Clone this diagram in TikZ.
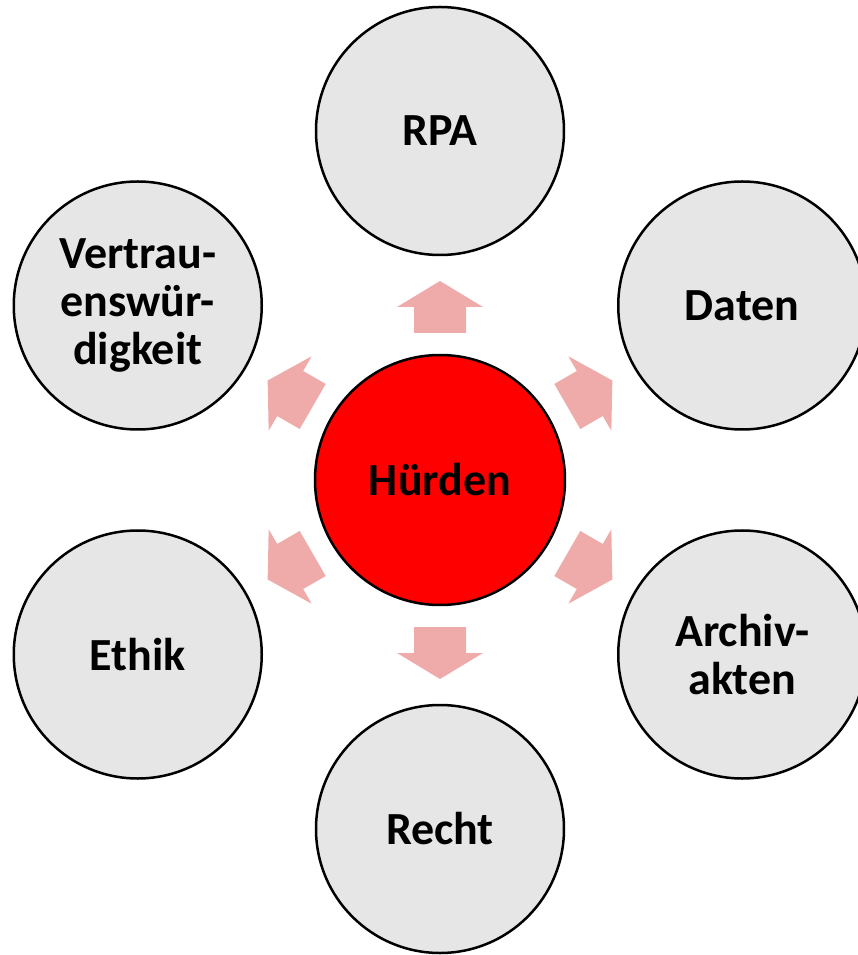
\documentclass[tikz,border=0pt]{standalone}
\usepackage{fontspec}
\setmainfont{Carlito}
\usepackage{tikz}

\begin{document}
\begin{tikzpicture}[x=1pt,y=1pt,
  hurdle/.style={circle,draw=black,line width=2.5pt,fill=hurdleGray,minimum size=248pt,
    inner sep=0pt,align=center,font=\bfseries\fontsize{46}{48}\selectfont}]
\definecolor{hurdleGray}{HTML}{E6E6E6}
\definecolor{hurdleRed}{HTML}{FF0000}
\definecolor{hurdleArrow}{HTML}{EFAAAA}
\useasboundingbox (-440,-475) rectangle (417,480);
\node[hurdle,fill=hurdleRed,minimum size=250pt] (hub) at (0,0) {Hürden};
\foreach \a/\name/\lab in {90/rpa/RPA,30/daten/Daten,-30/archiv/{Archiv-\\akten},
    -90/recht/Recht,-150/ethik/Ethik,150/vertrauen/{Vertrau-\\enswür-\\digkeit}} {
  \node[hurdle] (\name) at (\a:349) {\lab};
  \fill[hurdleArrow,shift={(hub.center)},rotate=\a]
    (147,-26) -- (173,-26) -- (173,-43) -- (199,0) -- (173,43) -- (173,26) -- (147,26) -- cycle;
}
\end{tikzpicture}
\end{document}
